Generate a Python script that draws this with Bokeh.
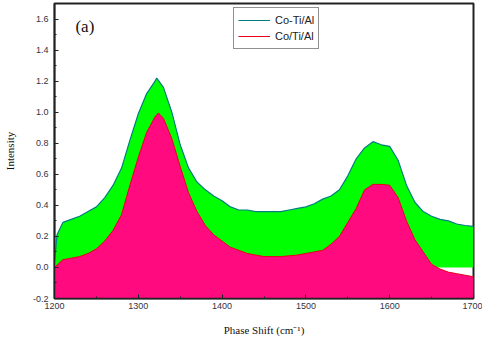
from bokeh.plotting import figure
from bokeh.models import Legend, LegendItem, FixedTicker, Range1d, Label, CustomJSTickFormatter
from bokeh.embed import file_html
from bokeh.resources import INLINE

# Co-Ti/Al
x_coti = [1200, 1203, 1210, 1220, 1230, 1240, 1250, 1260, 1270, 1280, 1290, 1300, 1310, 1320, 1322,
          1330, 1340, 1350, 1360, 1370, 1380, 1390, 1400, 1410, 1420, 1430, 1440, 1450, 1460, 1470,
          1480, 1490, 1500, 1510, 1520, 1530, 1540, 1550, 1560, 1570, 1580, 1590, 1600, 1610, 1620,
          1630, 1640, 1650, 1660, 1670, 1680, 1690, 1700]
y_coti = [0.03, 0.21, 0.29, 0.31, 0.33, 0.36, 0.39, 0.45, 0.53, 0.64, 0.82, 0.99, 1.12, 1.20, 1.22,
          1.16, 1.00, 0.79, 0.64, 0.55, 0.50, 0.46, 0.43, 0.39, 0.37, 0.37, 0.36, 0.36, 0.36, 0.36,
          0.37, 0.38, 0.39, 0.41, 0.44, 0.46, 0.50, 0.59, 0.70, 0.77, 0.81, 0.79, 0.78, 0.69, 0.53,
          0.42, 0.36, 0.33, 0.31, 0.30, 0.28, 0.27, 0.265]

# Co/Ti/Al
x_co_ti = [1200, 1210, 1220, 1230, 1240, 1250, 1260, 1270, 1280, 1290, 1300, 1310, 1320, 1324,
           1330, 1340, 1350, 1360, 1370, 1380, 1390, 1400, 1410, 1420, 1430, 1440, 1450, 1460, 1470,
           1480, 1490, 1500, 1510, 1520, 1530, 1540, 1550, 1560, 1570, 1580, 1590, 1600, 1610, 1620,
           1630, 1640, 1650, 1660, 1670, 1680, 1690, 1700]
y_co_ti = [0.0, 0.05, 0.06, 0.07, 0.09, 0.12, 0.17, 0.24, 0.34, 0.53, 0.71, 0.87, 0.97, 0.995,
           0.96, 0.83, 0.65, 0.48, 0.36, 0.27, 0.21, 0.17, 0.13, 0.11, 0.09, 0.08, 0.07, 0.07, 0.07,
           0.075, 0.08, 0.09, 0.10, 0.11, 0.15, 0.20, 0.29, 0.38, 0.50, 0.535, 0.535, 0.53, 0.45, 0.30,
           0.18, 0.10, 0.02, -0.01, -0.03, -0.04, -0.05, -0.06]

x_ticks = [1200, 1300, 1400, 1500, 1600, 1700]
y_ticks = [-0.2, 0.0, 0.2, 0.4, 0.6, 0.8, 1.0, 1.2, 1.4, 1.6]

p = figure(width=482, height=345, output_backend="svg", toolbar_location=None,
           x_range=Range1d(1200, 1700), y_range=Range1d(-0.2, 1.7),
           min_border_left=47, min_border_right=9, min_border_top=3, min_border_bottom=47)
p.grid.visible = False
p.background_fill_color = "white"
p.border_fill_color = "white"
p.outline_line_color = "#222222"
p.outline_line_width = 2

# fills
p.varea(x=x_coti, y1=0.0, y2=y_coti, fill_color="#00FF00")
p.varea(x=x_co_ti, y1=-0.3, y2=y_co_ti, fill_color="#FF0A7F")
l1 = p.line(x_coti, y_coti, line_color="#007F7F", line_width=1.2)
l2 = p.line(x_co_ti, y_co_ti, line_color="#E8001C", line_width=1)

for ax in (p.xaxis[0], p.yaxis[0]):
    ax.axis_line_color = "#222222"
    ax.axis_line_width = 1.5
    ax.major_tick_in = 4
    ax.major_tick_out = 0
    ax.minor_tick_in = 2
    ax.minor_tick_out = 0
    ax.major_tick_line_color = "#222222"
    ax.minor_tick_line_color = "#222222"
    ax.major_label_text_font = "Liberation Sans"
    ax.major_label_text_font_size = "9px"
    ax.major_label_text_color = "#333344"
    ax.axis_label_text_font = "Liberation Serif"
    ax.axis_label_text_font_style = "normal"
    ax.axis_label_text_font_size = "11px"
    ax.axis_label_text_color = "#111111"

p.xaxis.ticker = FixedTicker(ticks=x_ticks, minor_ticks=[1250, 1350, 1450, 1550, 1650])
p.yaxis.ticker = FixedTicker(ticks=y_ticks, minor_ticks=[-0.1, 0.1, 0.3, 0.5, 0.7, 0.9, 1.1, 1.3, 1.5])
p.yaxis.formatter = CustomJSTickFormatter(code="return tick.toFixed(1);")
p.xaxis.major_label_standoff = 4
p.yaxis.major_label_standoff = 6
p.xaxis.axis_label = "Phase Shift (cm⁻¹)"
p.yaxis.axis_label = "Intensity"
p.xaxis.axis_label_standoff = 12
p.yaxis.axis_label_standoff = 14

p.add_layout(Label(x=1225, y=1.555, text="(a)", text_font="Liberation Serif",
                   text_font_size="17px", text_baseline="middle", text_color="#111111"))

legend = Legend(items=[LegendItem(label="Co-Ti/Al", renderers=[l1]),
                       LegendItem(label="Co/Ti/Al", renderers=[l2])],
                location=(179, 249))
legend.border_line_color = "#222222"
legend.border_line_width = 1
legend.padding = 4
legend.margin = 0
legend.spacing = 0
legend.label_height = 16
legend.glyph_height = 16
legend.glyph_width = 32
legend.label_standoff = 5
legend.label_text_font = "Liberation Sans"
legend.label_text_font_size = "11px"
legend.label_text_color = "#222222"
legend.background_fill_alpha = 1
p.add_layout(legend, "center")

open("out.html", "w").write(file_html(p, INLINE))
